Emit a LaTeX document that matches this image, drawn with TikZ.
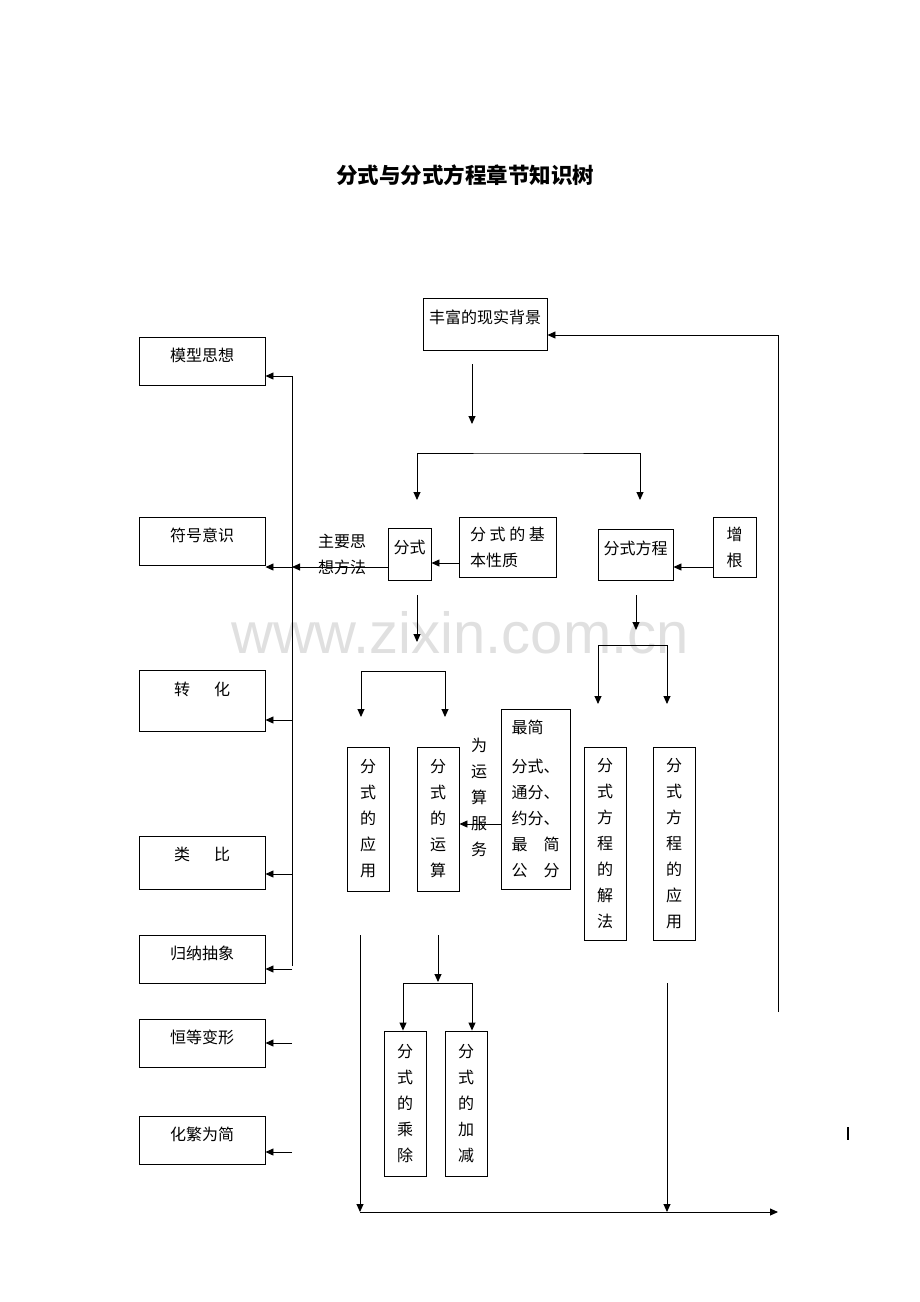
\documentclass[tikz,border=0pt]{standalone}
\usepackage{fontspec}
\setmainfont{Noto Sans CJK SC}
\newfontfamily\wmfont{Liberation Sans}
\usetikzlibrary{arrows.meta}

\tikzset{
  box/.style={draw, line width=0.9pt, inner sep=0pt, align=center, font=\fontsize{16}{26}\selectfont},
  lbl/.style={inner sep=0pt, align=left, font=\fontsize{16}{26}\selectfont},
  arr/.style={-{Triangle[length=8pt,width=7pt]}, line width=0.9pt},
  fork/.style={{Triangle[length=8pt,width=7pt]}-{Triangle[length=8pt,width=7pt]}, line width=0.9pt},
}

\begin{document}
\begin{tikzpicture}[x=1pt, y=-1pt]
    \useasboundingbox (0,0) rectangle (920,1302);
    \node[text=black!12, font=\wmfont\fontsize{58}{58}\selectfont] (wm) at (460,633) {www.zixin.com.cn};
    \node[font=\bfseries\fontsize{21.5}{24}\selectfont] (title) at (465,175) {分式与分式方程章节知识树};

    % top row
    \node[box, minimum width=124pt, minimum height=52pt, text depth=14pt] (bg) at (485,324) {丰富的现实背景};
    \node[box, minimum width=43pt, minimum height=52pt, text depth=14pt] (fs) at (409.5,554) {分式};
    \node[box, minimum width=97pt, minimum height=60pt, align=left] (jb) at (507.5,547) {分 式 的 基\\本性质};
    \node[box, minimum width=75pt, minimum height=51pt, text depth=13pt] (fc) at (635.5,554.5) {分式方程};
    \node[box, minimum width=43pt, minimum height=60pt] (zg) at (734.5,547) {增\\根};
    \node[lbl] (zy) at (342,554) {主要思\\想方法};

    % left column
    \node[box, minimum width=126pt, minimum height=48pt, text depth=12pt] (mx) at (202,361) {模型思想};
    \node[box, minimum width=126pt, minimum height=48pt, text depth=12pt] (fh) at (202,541) {符号意识};
    \node[box, minimum width=126pt, minimum height=61pt, text depth=23pt] (zh) at (202,700.5) {转\hspace{24pt}化};
    \node[box, minimum width=126pt, minimum height=53pt, text depth=17pt] (lb) at (202,862.5) {类\hspace{24pt}比};
    \node[box, minimum width=126pt, minimum height=48pt, text depth=12pt] (gn) at (202,959) {归纳抽象};
    \node[box, minimum width=126pt, minimum height=48pt, text depth=12pt] (hd) at (202,1043) {恒等变形};
    \node[box, minimum width=126pt, minimum height=48pt, text depth=12pt] (hf) at (202,1140) {化繁为简};

    % middle
    \node[box, minimum width=42pt, minimum height=144pt] (yy) at (368,819) {分\\式\\的\\应\\用};
    \node[box, minimum width=42pt, minimum height=144pt] (ys) at (438,819) {分\\式\\的\\运\\算};
    \node[lbl, align=center] (wei) at (479,797) {为\\运\\算\\服\\务};
    \node[box, minimum width=69pt, minimum height=180pt, align=left] (zj) at (535.5,799) {最简\\[13pt]分式、\\通分、\\约分、\\最　简\\公　分};
    \node[box, minimum width=42pt, minimum height=193pt] (jf) at (605,843.5) {分\\式\\方\\程\\的\\解\\法};
    \node[box, minimum width=42pt, minimum height=193pt] (fy) at (674,843.5) {分\\式\\方\\程\\的\\应\\用};
    \node[box, minimum width=42pt, minimum height=145pt] (chu) at (405,1103.5) {分\\式\\的\\乘\\除};
    \node[box, minimum width=42pt, minimum height=145pt] (jia) at (466,1103.5) {分\\式\\的\\加\\减};

    % free ends
    \coordinate (a1) at (472,364);
    \coordinate (a2) at (472,424);
    \coordinate (k1) at (417,500);
    \coordinate (k2) at (640,500);
    \coordinate (kb) at (528,453);
    \coordinate (f1) at (417,595);
    \coordinate (f2) at (417,642);
    \coordinate (g1) at (361,717);
    \coordinate (g2) at (445,717);
    \coordinate (gb) at (403,671);
    \coordinate (c1) at (636,595);
    \coordinate (c2) at (636,630);
    \coordinate (h1) at (598,704);
    \coordinate (h2) at (667,704);
    \coordinate (hb) at (632,645);
    \coordinate (tt) at (292,376);
    \coordinate (tb) at (292,966);
    \coordinate (y1) at (438,935);
    \coordinate (y2) at (438,982);
    \coordinate (cb) at (438,983);
    \coordinate (l1) at (360,935);
    \coordinate (l2) at (360,1212);
    \coordinate (l3) at (778,1212);
    \coordinate (r1) at (667,983);
    \coordinate (r2) at (667,1212);
    \coordinate (q1) at (778,1012);
    \coordinate (m1) at (848,1127);
    \coordinate (m2) at (848,1140);

    \draw[arr] (a1) -- (a2);
    \draw[fork] (k1) |- (kb) -| (k2);
    \draw[arr] ([yshift=-16pt]jb.west) -- ([yshift=-16pt]jb.west -| fs.east);
    \draw[arr] ([yshift=-20pt]zg.west) -- ([yshift=-20pt]zg.west -| fc.east);
    \draw[arr] ([yshift=-13pt]fs.west) -- ([yshift=-13pt]fs.west -| tt);
    \draw[line width=0.9pt] (tt) -- (tb);
    \foreach \b/\d in {mx/15, fh/26, zh/19.5, lb/11.5, gn/10, hd/0, hf/12}
        \draw[arr] ([yshift=-\d pt]\b.east -| tt) -- ([yshift=-\d pt]\b.east);

    \draw[arr] (f1) -- (f2);
    \draw[fork] (g1) |- (gb) -| (g2);
    \draw[arr] (c1) -- (c2);
    \draw[fork] (h1) |- (hb) -| (h2);
    \draw[arr] ([yshift=-25pt]zj.west) -- ([yshift=-25pt]zj.west -| ys.east);

    \draw[arr] (y1) -- (y2);
    \draw[fork] ([xshift=-2pt]chu.north) |- (cb) -| ([xshift=6pt]jia.north);
    \draw[arr] (l1) -- (l2);
    \draw[arr] (l2) -- (l3);
    \draw[arr] (r1) -- (r2);
    \draw[arr] (q1) |- ([yshift=-11pt]bg.east);
    \draw[line width=1.2pt] (m1) -- (m2);
\end{tikzpicture}
\end{document}
